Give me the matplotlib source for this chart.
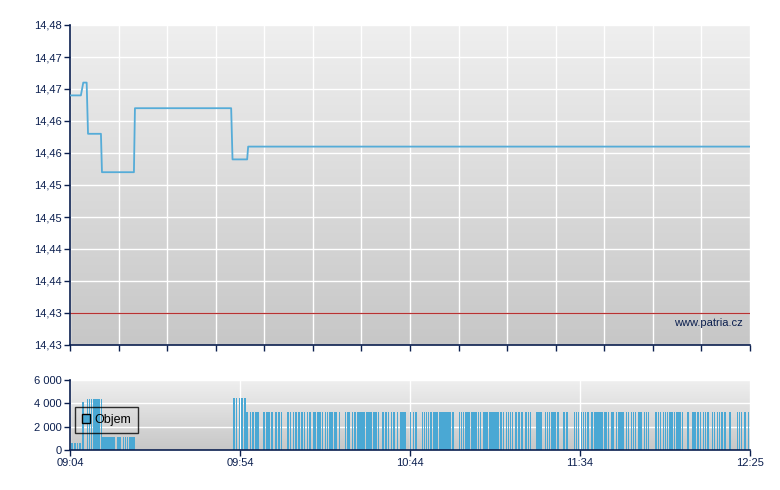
import numpy as np
import matplotlib
matplotlib.use("Agg")
import matplotlib.pyplot as plt
from matplotlib.colors import LinearSegmentedColormap
from matplotlib.patches import Patch

plt.rcParams['font.family'] = ['Liberation Sans', 'DejaVu Sans']

# cena (minuty od 09:04)
price_t = [0, 3.2, 3.9, 4.9, 5.3, 9.1, 9.4, 18.8, 19.1, 47.4, 47.8, 52.1, 52.4, 200]
price = [14.469, 14.469, 14.471, 14.471, 14.463, 14.463, 14.457, 14.457,
         14.467, 14.467, 14.459, 14.459, 14.461, 14.461]
ref_price = 14.435

# objem - casy obchodu po skupinach
t_600 = [0.6, 1.4, 2.2, 2.9]
t_4100 = [3.9]
t_4400 = [5.1, 5.7, 6.3, 6.9, 7.4, 8.0, 8.6, 9.2]
t_1150 = [9.4, 10.0, 10.6, 11.2, 11.8, 12.4, 12.9, 14.1, 14.7, 15.7, 16.3, 16.9, 17.6, 18.2, 18.8]
t_4450 = [48.2, 49.0, 49.8, 50.6, 51.4]
t_3300 = [52.1, 53.1, 53.9, 54.7, 55.3, 57.1, 57.9, 58.6, 59.4, 60.6, 61.4, 62.2,
          64.1, 64.9, 65.7, 66.5, 67.3, 68.2, 69.0, 69.8, 70.6, 71.6, 72.1, 72.9,
          73.5, 74.3, 75.1, 75.7, 76.5, 77.1, 77.9, 78.4, 79.2, 81.0, 81.6, 82.1,
          83.1, 83.9, 84.7, 85.3, 85.9, 86.5, 87.3, 88.0, 88.6, 89.4, 90.0, 90.8,
          92.1, 92.9, 93.7, 94.5, 95.3, 96.3, 97.3, 98.0, 98.6,
          100.2, 101.0, 101.8, 103.7, 104.3, 104.9, 105.5, 106.1, 106.9, 107.4,
          108.0, 108.8, 109.4, 110.0, 110.6, 111.2, 111.8, 112.6, 114.5, 115.1,
          115.7, 116.3, 116.8, 117.4, 118.2, 118.8, 119.4, 120.2, 120.8, 121.6,
          122.1, 122.7, 123.5, 124.1, 124.7, 125.3, 125.9,
          126.7, 127.5, 128.4, 129.0, 129.6, 130.2, 131.2, 132.1, 132.9, 134.1,
          134.9, 135.5, 137.3, 138.0, 138.6, 139.8, 140.4, 141.0, 141.6, 142.1,
          142.7, 143.5, 145.3, 146.1, 148.4, 149.0, 149.6, 150.4, 151.0, 151.6, 152.4,
          153.5, 154.3, 154.7, 155.3, 155.9, 156.5, 157.3, 157.8, 158.4, 159.2,
          159.7, 160.8, 161.4, 162.1, 162.7, 163.7, 164.3, 165.1, 165.7, 166.3,
          167.4, 168.0, 169.0, 169.6, 170.2, 172.4, 173.1, 173.7, 174.5, 175.1,
          175.7, 176.5, 177.1, 177.8, 178.6, 179.1,
          179.4, 180.2, 181.8, 183.3, 183.9, 184.5, 184.9, 185.5, 186.3, 186.9,
          187.6, 189.0, 189.6, 190.4, 191.0, 191.8, 192.6, 194.1, 196.3, 196.9,
          197.5, 198.6, 199.6]

vol_t = t_600 + t_4100 + t_4400 + t_1150 + t_4450 + t_3300
vol_v = ([600] * len(t_600) + [4100] * len(t_4100) + [4400] * len(t_4400)
         + [1150] * len(t_1150) + [4450] * len(t_4450) + [3300] * len(t_3300))

y_ticks = [14.43, 14.435, 14.44, 14.445, 14.45, 14.455, 14.46, 14.465, 14.47, 14.475, 14.48]
y_labels = ['14,43', '14,43', '14,44', '14,44', '14,45', '14,45', '14,46', '14,46', '14,47', '14,47', '14,48']
x_ticks = [0, 50, 100, 150, 200]
x_labels = ['09:04', '09:54', '10:44', '11:34', '12:25']
v_ticks = [0, 2000, 4000, 6000]
v_labels = ['0', '2 000', '4 000', '6 000']

navy = '#0b1f4f'
blue = '#4aa8d4'
grad = LinearSegmentedColormap.from_list('g', ['#efefef', '#c7c7c7'])

fig = plt.figure(figsize=(7.8, 4.9), dpi=100)
ax = fig.add_axes([70 / 780, 1 - 345 / 490, 680 / 780, 320 / 490])
axv = fig.add_axes([70 / 780, 1 - 450 / 490, 680 / 780, 70 / 490])


def style(a, ylo, yhi):
    a.set_xlim(0, 200)
    a.set_ylim(ylo, yhi)
    a.imshow(np.linspace(0, 1, 256).reshape(-1, 1), cmap=grad, extent=[0, 200, ylo, yhi],
             aspect='auto', origin='upper', zorder=0)
    for s in ['top', 'right']:
        a.spines[s].set_visible(False)
    for s in ['left', 'bottom']:
        a.spines[s].set_color(navy)
        a.spines[s].set_linewidth(1.2)
    a.tick_params(colors=navy, labelcolor=navy, labelsize=8, length=4, width=1, pad=2)
    a.set_axisbelow(True)
    a.grid(True, color='white', linewidth=1)


# hlavni graf
style(ax, 14.43, 14.48)
ax.set_yticks(y_ticks)
ax.set_yticklabels(y_labels)
ax.set_xticks(np.linspace(0, 200, 15))
ax.set_xticklabels([])
ax.axhline(ref_price, color='#b83232', linewidth=0.9, zorder=2)
ax.plot(price_t, price, color='#55acd8', linewidth=1.3, zorder=3)
ax.text(0.99, 0.07, 'www.patria.cz', transform=ax.transAxes, ha='right', va='center',
        fontsize=8, color=navy)

# objem
style(axv, 0, 6000)
axv.set_yticks(v_ticks)
axv.set_yticklabels(v_labels)
axv.set_xticks(x_ticks)
axv.set_xticklabels(x_labels)
axv.bar(vol_t, vol_v, width=0.45, color=blue, zorder=2, linewidth=0)
leg = axv.legend(handles=[Patch(facecolor=blue, edgecolor='black', label='Objem')],
                 loc='center left', bbox_to_anchor=(0.007, 0.43), borderaxespad=0,
                 fontsize=9, handlelength=0.7, handleheight=0.7, handletextpad=0.3,
                 borderpad=0.55, fancybox=False, edgecolor='black', labelcolor='black')
leg.get_frame().set_facecolor('none')
leg.get_frame().set_linewidth(1)

fig.savefig('out.png', dpi=100)
